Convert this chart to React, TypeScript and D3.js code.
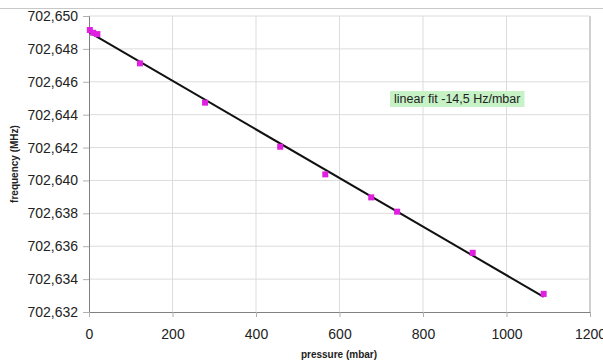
import { useEffect, useRef } from "react";
import * as d3 from "d3";

// measured points (pressure in mbar, frequency in MHz)
const pressure = [2, 10, 20, 122, 278, 458, 566, 676, 738, 919, 1089];
const frequency = [
  702.64915, 702.64898, 702.6489, 702.64712, 702.64473, 702.64205, 702.64037,
  702.63897, 702.6381, 702.6356, 702.6331,
];
const xTicks = [0, 200, 400, 600, 800, 1000, 1200];
const yTicks = [
  702.632, 702.634, 702.636, 702.638, 702.64, 702.642, 702.644, 702.646,
  702.648, 702.65,
];
const fitLabel = "linear fit -14,5 Hz/mbar";

export default function App() {
  const ref = useRef<SVGSVGElement>(null);

  useEffect(() => {
    const width = 603;
    const height = 363;
    const margin = { top: 16, right: 13, bottom: 51, left: 89 };
    const font = "'Liberation Sans', Arial, sans-serif";

    const svg = d3.select(ref.current);
    svg.selectAll("*").remove();

    const x = d3
      .scaleLinear()
      .domain([0, 1200])
      .range([margin.left, width - margin.right]);
    const y = d3
      .scaleLinear()
      .domain([702.632, 702.65])
      .range([height - margin.bottom, margin.top]);

    const locale = d3.formatLocale({
      decimal: ",",
      thousands: ".",
      grouping: [3],
      currency: ["", ""],
    });
    const fmtY = locale.format(".3f");

    // frame line at the top
    svg
      .append("line")
      .attr("x1", 0)
      .attr("x2", width)
      .attr("y1", 8.5)
      .attr("y2", 8.5)
      .attr("stroke", "#c8c8c8");

    // grid
    svg
      .append("g")
      .selectAll("line")
      .data(xTicks.slice(1))
      .enter()
      .append("line")
      .attr("x1", (d) => x(d))
      .attr("x2", (d) => x(d))
      .attr("y1", y(702.65))
      .attr("y2", y(702.632))
      .attr("stroke", (d) => (d === 1200 ? "#a0a0a0" : "#dcdcdc"));
    svg
      .append("g")
      .selectAll("line")
      .data(yTicks.slice(1))
      .enter()
      .append("line")
      .attr("x1", x(0))
      .attr("x2", x(1200))
      .attr("y1", (d) => y(d))
      .attr("y2", (d) => y(d))
      .attr("stroke", "#dcdcdc");

    // axes
    const yAxis = svg
      .append("g")
      .attr("transform", `translate(${x(0)},0)`)
      .call(d3.axisLeft(y).tickValues(yTicks).tickFormat((d) => fmtY(+d)).tickSize(6).tickPadding(5));
    const xAxis = svg
      .append("g")
      .attr("transform", `translate(0,${y(702.632)})`)
      .call(d3.axisBottom(x).tickValues(xTicks).tickFormat(d3.format("d")).tickSize(5).tickPadding(12));
    [xAxis, yAxis].forEach((a) => {
      a.select(".domain").attr("stroke", "#808080");
      a.selectAll(".tick line").attr("stroke", "#b0b0b0");
      a.selectAll("text")
        .attr("fill", "#222")
        .style("font-family", font)
        .style("font-size", "14px");
    });

    // fit line (least squares over the measured points)
    const n = pressure.length;
    const mx = d3.mean(pressure)!;
    const my = d3.mean(frequency)!;
    const slope =
      d3.sum(pressure, (p, i) => (p - mx) * (frequency[i] - my)) /
      d3.sum(pressure, (p) => (p - mx) ** 2);
    const icpt = my - slope * mx;
    const x0 = 0;
    const x1 = pressure[n - 1];
    svg
      .append("line")
      .attr("x1", x(x0))
      .attr("y1", y(icpt + slope * x0))
      .attr("x2", x(x1))
      .attr("y2", y(icpt + slope * x1))
      .attr("stroke", "#111")
      .attr("stroke-width", 2);

    // points
    svg
      .append("g")
      .selectAll("rect")
      .data(pressure)
      .enter()
      .append("rect")
      .attr("x", (d) => x(d) - 3)
      .attr("y", (_, i) => y(frequency[i]) - 3)
      .attr("width", 6)
      .attr("height", 6)
      .attr("fill", "#e020e0");

    // annotation
    const note = svg.append("g");
    const box = note.append("rect").attr("fill", "#c6f2c6");
    const label = note
      .append("text")
      .attr("x", 394)
      .attr("y", 103)
      .style("font-family", font)
      .style("font-size", "12.5px")
      .attr("fill", "#222")
      .text(fitLabel);
    const bb = (label.node() as SVGTextElement).getBBox();
    box
      .attr("x", bb.x - 4)
      .attr("y", bb.y - 1)
      .attr("width", bb.width + 8)
      .attr("height", bb.height + 2);

    // axis titles
    svg
      .append("text")
      .attr("x", 339)
      .attr("y", 358)
      .attr("text-anchor", "middle")
      .style("font-family", font)
      .style("font-size", "10px")
      .style("font-weight", "bold")
      .attr("fill", "#222")
      .text("pressure (mbar)");
    svg
      .append("text")
      .attr("transform", "translate(18,164) rotate(-90)")
      .attr("text-anchor", "middle")
      .style("font-family", font)
      .style("font-size", "10px")
      .style("font-weight", "bold")
      .attr("fill", "#222")
      .text("frequency (MHz)");
  }, []);

  return (
    <svg
      ref={ref}
      width={603}
      height={363}
      style={{ position: "absolute", left: 0, top: 0, background: "#fff" }}
    />
  );
}
